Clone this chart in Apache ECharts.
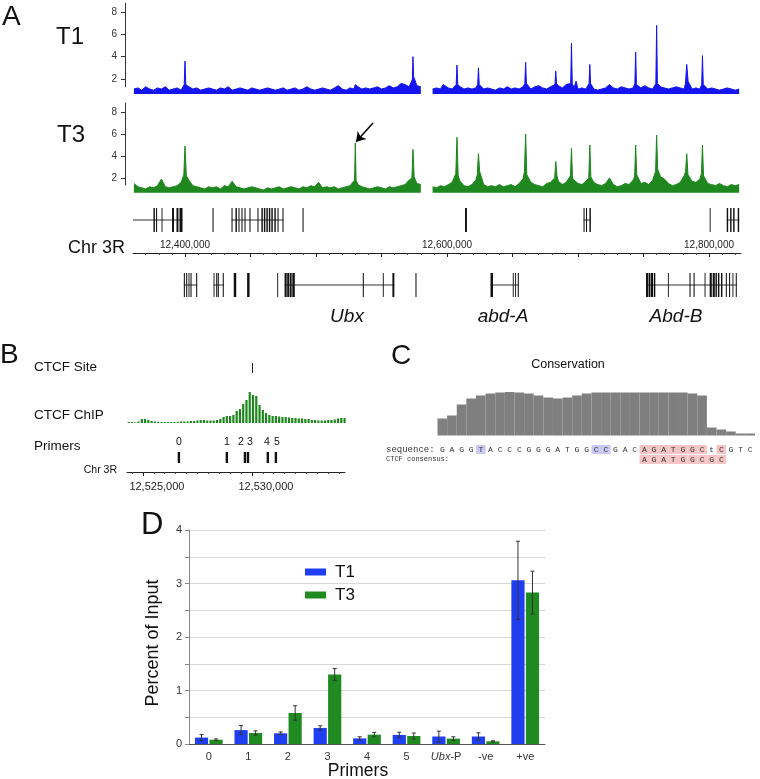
<!DOCTYPE html>
<html><head><meta charset="utf-8">
<script src="https://cdn.jsdelivr.net/npm/echarts@6.0.0/dist/echarts.min.js"></script>
<style>html,body{margin:0;padding:0;background:#fff}#c{width:760px;height:779px}</style>
</head><body><div id="c"></div>
<script>
// ================= Panel A data (genomic kb) =================
const chrStartKb = 12360.3, chrEndKb = 12824.4;
const trackStepKb = 3;
const seg1StartKb = 12361, seg2StartKb = 12589;
const trackTicks = [2, 4, 6, 8];
const t1Seg1 = [1.1,1.2,1.0,1.3,1.1,1.0,1.2,1.1,1.3,1.0,1.1,1.2,1.0,1.1,1.3,1.1,1.2,1.0,1.1,1.2,
  1.1,1.0,1.2,1.1,1.3,1.0,1.1,1.2,1.1,1.0,1.2,1.1,1.0,1.1,1.2,1.1,1.0,1.1,1.2,1.0,
  1.1,1.2,1.0,1.1,1.3,1.1,1.0,1.1,1.2,1.1,1.0,1.2,1.4,1.1,1.0,1.2,1.1,1.3,1.1,1.2,
  1.1,1.2,1.3,1.1,1.2,1.4,1.2,1.3,1.6,1.5,1.3,1.2,1.4,1.3];
const t1Seg2 = [1.1,1.2,1.1,1.4,1.2,1.1,1.2,1.3,1.1,1.2,1.1,1.2,1.3,1.1,1.2,1.1,1.0,1.2,1.1,1.3,
  1.1,1.2,1.1,1.3,1.2,1.1,1.3,1.4,1.2,1.1,1.3,1.2,1.4,1.2,1.5,1.3,1.2,1.1,1.2,1.1,
  1.2,1.1,1.0,1.1,1.2,1.1,1.2,1.1,1.3,1.2,1.1,1.2,1.3,1.2,1.4,1.2,1.1,1.2,1.3,1.2,
  1.1,1.2,1.3,1.2,1.1,1.2,1.1,1.2,1.1,1.0,1.1,1.2,1.1,1.0,1.1,1.2,1.1,1.0,1.1];
const t1Peaks = [[12399.4,1.5],[12400,3.6],[12400.6,1.5],[12530,1.5],[12556,1.4],
  [12573,1.8],[12573.6,2.0],[12574,4.0],[12574.5,2.2],[12575.5,1.9],[12597,1.5],
  [12607,1.5],[12607.6,3.25],[12608.2,1.5],[12623.4,1.5],[12624,3.0],[12624.6,1.5],
  [12659.4,1.6],[12660,3.5],[12660.6,1.6],[12682.4,1.5],[12683,2.7],[12683.6,1.6],
  [12694.4,1.6],[12695,5.2],[12695.6,1.6],[12698.5,1.8],[12708.4,1.6],[12709,3.3],[12709.6,1.6],
  [12724,1.5],[12743.4,1.6],[12744,4.4],[12744.6,1.5],[12759.4,1.6],[12760,6.8],[12760.6,1.6],
  [12782,1.6],[12783,3.3],[12784,1.8],[12794.4,1.5],[12795,4.1],[12795.6,1.5]];
const t3Seg1 = [1.5,1.2,1.1,1.0,1.2,1.1,1.3,1.9,1.2,1.1,
  1.2,1.3,1.6,2.0,1.8,1.3,1.2,1.1,1.0,1.2,
  1.1,1.2,1.0,1.3,1.2,1.7,1.2,1.1,1.0,1.1,
  1.2,1.1,1.0,0.9,1.1,1.0,1.1,1.2,1.0,1.1,
  1.2,1.1,1.0,1.2,1.1,1.3,1.2,1.6,1.1,1.2,
  1.1,1.2,1.0,1.1,1.2,1.3,1.5,1.4,1.2,1.1,
  1.0,1.1,1.2,1.1,1.0,1.2,1.1,1.2,1.3,1.4,
  1.8,2.0,1.5,1.4];
const t3Seg2 = [1.2,1.1,1.3,1.2,1.4,1.6,2.0,1.7,1.3,1.2,
  1.4,1.8,1.9,1.4,1.2,1.3,1.2,1.4,1.2,1.3,
  1.4,1.2,1.5,1.9,2.1,1.6,1.4,1.3,1.2,1.5,
  1.6,2.0,1.7,1.4,1.6,2.0,1.8,1.5,1.4,1.7,
  2.1,1.6,1.4,1.3,1.5,1.9,1.4,1.2,1.3,1.5,
  1.4,1.8,1.9,1.5,1.6,1.4,1.8,2.4,2.1,1.9,
  1.5,1.3,1.4,1.6,2.2,2.0,1.7,1.6,1.9,1.8,
  1.5,1.4,1.3,1.5,1.3,1.2,1.4,1.3,1.4];
const t3Peaks = [[12399.1,2.3],[12400,4.9],[12401,2.2],[12529.4,1.8],[12530,5.2],[12530.6,1.8],
  [12573.2,2.0],[12574,4.6],[12574.9,2.1],[12606.7,2.4],[12607.6,5.7],[12608.5,2.2],
  [12623.1,2.3],[12624,4.2],[12624.9,2.6],[12659.1,2.6],[12660,6.0],[12660.9,2.3],
  [12682.2,2.0],[12683,3.5],[12683.9,2.2],[12694.2,2.2],[12695,4.7],[12695.8,2.0],
  [12708.2,2.0],[12709,5.0],[12709.8,2.1],[12724,2.0],[12743.2,2.1],[12744,5.0],[12744.8,2.3],
  [12759.2,2.6],[12760,5.9],[12760.8,2.8],[12782.1,2.6],[12783,4.2],[12783.9,2.3],
  [12794.2,2.4],[12795,5.0],[12795.8,2.2]];
const arrowFrom = [12543.5, 7.0], arrowTo = [12530.6, 5.3];

const geneTopIntrons = [[12360.3,12398.1],[12435.5,12475.2],[12704.2,12709.8],[12813.5,12823.0]];
const geneTopExons = [[12375.9,12377.0],[12377.9,12378.7],[12382.1,12382.8],[12390.1,12391.6],[12393.5,12395.0],
  [12395.8,12398.1],[12421.0,12421.8],[12435.5,12436.3],[12438.5,12439.6],[12440.8,12441.6],[12443.1,12443.9],
  [12445.4,12446.2],[12449.2,12450.0],[12455.3,12456.1],[12458.3,12459.4],[12460.2,12461.3],[12462.1,12463.2],
  [12464.0,12465.1],[12465.9,12467.0],[12468.2,12469.3],[12470.6,12471.4],[12474.4,12475.2],[12489.7,12490.5],
  [12613.7,12615.2],[12704.2,12705.0],[12706.1,12706.9],[12708.7,12709.8],[12800.5,12801.1],
  [12813.5,12814.6],[12816.1,12817.2],[12818.4,12819.5],[12821.9,12823.0]];
const geneBottomIntrons = [[12399.1,12409.3],[12421.8,12429.6],[12476.0,12559.8],[12633.2,12654.8],[12751.9,12821.2]];
const geneBottomExons = [[12399.1,12399.9],[12400.9,12401.7],[12402.7,12403.4],[12404.2,12405.0],[12408.5,12409.3],
  [12421.8,12422.5],[12423.8,12424.6],[12425.0,12425.8],[12428.8,12429.6],[12437.2,12439.1],[12447.4,12449.3],
  [12470.4,12471.1],[12476.0,12477.6],[12478.0,12479.5],[12479.9,12481.4],[12481.9,12483.8],[12535.7,12536.5],
  [12551.0,12551.7],[12558.3,12559.8],[12575.9,12576.7],[12633.2,12635.1],[12650.2,12650.9],[12652.0,12652.7],
  [12654.0,12654.8],[12751.9,12753.4],[12753.8,12755.3],[12755.7,12757.3],[12757.9,12759.0],[12768.6,12769.3],
  [12785.1,12785.9],[12788.2,12789.0],[12796.6,12797.3],[12800.5,12802.1],[12802.8,12804.4],[12804.9,12806.0],
  [12806.8,12807.9],[12809.1,12810.2],[12812.8,12813.6],[12815.3,12816.1],[12817.9,12818.6],[12820.4,12821.2]];
const chrMajorTicks = [12400,12450,12500,12550,12600,12650,12700,12750,12800];
const chrLabelTicks = [12400,12600,12800];
const chrMinorTicks = [12370,12380,12390,12410,12420,12430,12440,12460,12470,12480,12490,12510,12520,12530,12540,
  12560,12570,12580,12590,12610,12620,12630,12640,12660,12670,12680,12690,12710,12720,12730,12740,12760,12770,
  12780,12790,12810,12820];

// ================= Panel B data =================
const bStartKb = 12524.27, bEndKb = 12534.27;
const ctcfSiteKb = 12530.0;
const chipStartKb = 12524.35, chipStepKb = 0.15;
const chipValues = [1,1,0.5,1.5,4,4,3,2,1.5,1,
  1,1,1,1,1,1,1.5,1.5,1.5,2,
  2,2.5,3,3,2.5,2.5,2.5,3,4,6,
  7,7,8,12,14,19,23,31,28,27,
  18,13,10,8,7,
  7,6.5,6,6,5.5,5,5,4.5,4.5,4,4,3,3,2.5,2.5,2.5,3,3,3.5,4.5,5,5];
const primerNames = ['0','1','2','3','4','5'];
const primerKb = [12526.65,12528.85,12529.68,12529.82,12530.73,12531.1];
const bMajorTicks = [12525, 12530];
const bMinorTicks = [12524.5,12525.5,12526,12526.5,12527,12527.5,12528,12528.5,12529,12529.5,
  12530.5,12531,12531.5,12532,12532.5,12533,12533.5,12534];

// ================= Panel C data =================
const consSeq = ['G','A','G','G','T','A','C','C','C','G','G','G','A','T','G','G','C','C','G','A','C',
  'A','G','A','T','G','G','C','t','C','G','T','C'];
const conservation = [17,20,31,37,40,42,43,43.5,43,42,40,38,37,38,40,42,43,43,43,43,43,43,43,43,43,43,42,40,8,6,4,2,2];
const blueHighlight = [4,16,17];
const pinkHighlight = [21,22,23,24,25,26,27,29];
const consensus = ['A','G','A','T','G','G','C','G','C'];
const consensusStart = 21;

// ================= Panel D data =================
const dCategories = ['0','1','2','3','4','5','Ubx-P','-ve','+ve'];
const t1Vals = [0.12,0.26,0.20,0.30,0.105,0.17,0.14,0.14,3.06];
const t1Err  = [0.055,0.085,0.025,0.04,0.03,0.05,0.10,0.07,0.73];
const t3Vals = [0.08,0.205,0.58,1.30,0.175,0.15,0.10,0.05,2.83];
const t3Err  = [0.015,0.04,0.135,0.11,0.04,0.055,0.035,0.01,0.40];

// ================= build =================
const SANS = "'Liberation Sans', Arial, sans-serif";
const MONO = "'Liberation Mono', monospace";
const BLUE = '#1414ee', GREEN = '#1e871e';
const BAR_BLUE = '#1f3ef0', BAR_GREEN = '#1f8a1f';

function buildTrack(seg1, seg2, peaks) {
  const near = x => peaks.some(p => Math.abs(p[0] - x) < 0.9);
  const a = seg1.map((v, i) => [seg1StartKb + i * trackStepKb, v]).filter(p => !near(p[0]));
  const b = seg2.map((v, i) => [seg2StartKb + i * trackStepKb, v]).filter(p => !near(p[0]));
  const seg1End = seg1StartKb + (seg1.length - 1) * trackStepKb;
  peaks.forEach(p => (p[0] <= seg1End + 1 ? a : b).push(p));
  a.sort((x, y) => x[0] - y[0]); b.sort((x, y) => x[0] - y[0]);
  return a.concat([[(seg1End + seg2StartKb) / 2, null]], b);
}

const grids = [
  {left:133, top:3.1, width:608, height:83.7},   //0 T1
  {left:133, top:103, width:608, height:82},     //1 T3
  {left:133, top:208, width:608, height:24},     //2 gene top
  {left:133, top:273, width:608, height:24},     //3 gene bottom
  {left:133, top:252, width:608, height:1},      //4 chr axis major
  {left:133, top:252, width:608, height:1},      //5 chr axis minor
  {left:127, top:392, width:218, height:31},     //6 chip
  {left:127, top:363, width:218, height:10},     //7 site
  {left:127, top:452, width:218, height:11},     //8 primers
  {left:127, top:471, width:218, height:1},      //9 B axis major
  {left:127, top:471, width:218, height:1},      //10 B axis minor
  {left:437.5, top:392, width:317.5, height:43.5}, //11 conservation
  {left:189, top:530, width:356, height:214}     //12 D
];
const hiddenX = (g, min, max) => ({type:'value', gridIndex:g, min, max, show:false});
const hiddenY = (g, min, max) => ({type:'value', gridIndex:g, min, max, show:false});
const trackY = (g, min, max) => ({type:'value', gridIndex:g, min, max, offset:8,
  axisLine:{show:true, lineStyle:{color:'#333', width:1}},
  axisTick:{show:true, length:4, customValues:trackTicks, lineStyle:{color:'#333'}},
  axisLabel:{customValues:trackTicks, fontSize:10, color:'#333', margin:8, fontFamily:SANS},
  splitLine:{show:false}});
const fmtBp = v => Math.round(v * 1000).toLocaleString('en-US');

const xAxes = [
  hiddenX(0, chrStartKb, chrEndKb), hiddenX(1, chrStartKb, chrEndKb),
  hiddenX(2, chrStartKb, chrEndKb), hiddenX(3, chrStartKb, chrEndKb),
  {type:'value', gridIndex:4, min:chrStartKb, max:chrEndKb, position:'bottom',
    axisLine:{show:true, lineStyle:{color:'#222', width:1}},
    axisTick:{show:true, inside:false, length:4, customValues:chrMajorTicks, lineStyle:{color:'#222'}},
    axisLabel:{show:true, inside:true, margin:3, customValues:chrLabelTicks, formatter:fmtBp, fontSize:10, color:'#222', fontFamily:SANS},
    splitLine:{show:false}},
  {type:'value', gridIndex:5, min:chrStartKb, max:chrEndKb, position:'bottom',
    axisLine:{show:false}, axisLabel:{show:false}, splitLine:{show:false},
    axisTick:{show:true, inside:false, length:2, customValues:chrMinorTicks, lineStyle:{color:'#444'}}},
  hiddenX(6, bStartKb, bEndKb), hiddenX(7, bStartKb, bEndKb), hiddenX(8, bStartKb, bEndKb),
  {type:'value', gridIndex:9, min:bStartKb, max:bEndKb, position:'bottom',
    axisLine:{show:true, lineStyle:{color:'#222', width:1}},
    axisTick:{show:true, length:4, customValues:bMajorTicks, lineStyle:{color:'#222'}},
    axisLabel:{show:true, margin:9, customValues:bMajorTicks, formatter:fmtBp, fontSize:11, color:'#222',
      fontFamily:SANS, padding:[0,0,0,28]},
    splitLine:{show:false}},
  {type:'value', gridIndex:10, min:bStartKb, max:bEndKb, position:'bottom',
    axisLine:{show:false}, axisLabel:{show:false}, splitLine:{show:false},
    axisTick:{show:true, length:2, customValues:bMinorTicks, lineStyle:{color:'#444'}}},
  {type:'category', gridIndex:11, data:consSeq.map((c, i) => String(i)), show:false, boundaryGap:true},
  {type:'category', gridIndex:12, data:dCategories,
    axisLine:{show:true, lineStyle:{color:'#555', width:1}}, axisTick:{show:false},
    axisLabel:{interval:0, margin:7, fontSize:11, color:'#333', fontFamily:SANS,
      formatter: v => v === 'Ubx-P' ? '{i|Ubx}-P' : v,
      rich:{i:{fontStyle:'italic', fontSize:11, color:'#333', fontFamily:SANS}}}}
];
const yAxes = [
  trackY(0, 1.3, 8.8), trackY(1, 1.36, 8.82),
  hiddenY(2, 0, 1), hiddenY(3, 0, 1), hiddenY(4, 0, 1), hiddenY(5, 0, 1),
  hiddenY(6, 0, 31), hiddenY(7, 0, 1), hiddenY(8, 0, 1), hiddenY(9, 0, 1), hiddenY(10, 0, 1),
  hiddenY(11, 0, 43.5),
  {type:'value', gridIndex:12, min:0, max:4, interval:0.5,
    axisLine:{show:true, lineStyle:{color:'#888'}}, axisTick:{show:true, length:4, lineStyle:{color:'#888'}},
    axisLabel:{formatter: v => Number.isInteger(v) ? String(v) : '', fontSize:11, color:'#333', margin:7, fontFamily:SANS},
    splitLine:{show:true, lineStyle:{color:'#d8d8d8', width:1}}}
];

const trackSeries = (name, g, data, color, extra) => Object.assign({
  name, type:'line', xAxisIndex:g, yAxisIndex:g, data, showSymbol:false, clip:false,
  connectNulls:false, lineStyle:{color, width:1}, itemStyle:{color},
  areaStyle:{color, opacity:1, origin:0.65}, silent:true, z:3}, extra || {});

const geneSeries = (g, data, kind) => ({
  type:'custom', xAxisIndex:g, yAxisIndex:g, data, silent:true, z: kind === 'exon' ? 4 : 3,
  renderItem: (params, api) => {
    const cs = params.coordSys;
    const s = api.coord([api.value(0), 0])[0], e = api.coord([api.value(1), 0])[0];
    if (kind === 'exon') {
      return {type:'rect', shape:{x:s, y:cs.y, width:Math.max(e - s, 0.9), height:cs.height}, style:{fill:'#111'}};
    }
    const ym = cs.y + cs.height / 2;
    return {type:'line', shape:{x1:s, y1:ym, x2:e, y2:ym}, style:{stroke:'#333', lineWidth:1}};
  }
});

const primerLabelDx = [0, 0, -4, 2, -1, 1];
const errorSeries = (g, vals, errs, sign) => ({
  type:'custom', xAxisIndex:g, yAxisIndex:g, silent:true, z:5,
  data: vals.map((v, i) => [i, v, errs[i]]),
  renderItem: (params, api) => {
    const ci = api.value(0), v = api.value(1), e = api.value(2);
    const band = api.size([1, 0])[0];
    const w = band * 0.7 / 2.1;
    const xc = api.coord([ci, 0])[0] + sign * 0.55 * w;
    const yt = api.coord([ci, v + e])[1], yb = api.coord([ci, v - e])[1];
    const st = {stroke:'#333', lineWidth:1};
    return {type:'group', children:[
      {type:'line', shape:{x1:xc, y1:yt, x2:xc, y2:yb}, style:st},
      {type:'line', shape:{x1:xc - 2, y1:yt, x2:xc + 2, y2:yt}, style:st},
      {type:'line', shape:{x1:xc - 2, y1:yb, x2:xc + 2, y2:yb}, style:st}
    ]};
  }
});

const series = [
  trackSeries('T1 track', 0, buildTrack(t1Seg1, t1Seg2, t1Peaks), BLUE),
  trackSeries('T3 track', 1, buildTrack(t3Seg1, t3Seg2, t3Peaks), GREEN, {
    markLine:{silent:true, symbol:['none','arrow'], symbolSize:9, animation:false,
      lineStyle:{color:'#000', width:1.5, type:'solid'}, label:{show:false},
      emphasis:{disabled:true},
      data:[[{coord:arrowFrom}, {coord:arrowTo}]]}}),
  geneSeries(2, geneTopIntrons, 'intron'), geneSeries(2, geneTopExons, 'exon'),
  geneSeries(3, geneBottomIntrons, 'intron'), geneSeries(3, geneBottomExons, 'exon'),
  {type:'bar', xAxisIndex:6, yAxisIndex:6, silent:true, barWidth:2.2,
    data: chipValues.map((v, i) => [chipStartKb + i * chipStepKb, v]), itemStyle:{color:GREEN}},
  {type:'custom', xAxisIndex:7, yAxisIndex:7, silent:true, data:[[ctcfSiteKb, 0]],
    renderItem: (params, api) => {
      const cs = params.coordSys, x = Math.round(api.coord([api.value(0), 0])[0]) + 0.5;
      return {type:'line', shape:{x1:x, y1:cs.y, x2:x, y2:cs.y + cs.height}, style:{stroke:'#222', lineWidth:1}};
    }},
  {type:'custom', xAxisIndex:8, yAxisIndex:8, silent:true, data: primerKb.map(k => [k, 0]),
    renderItem: (params, api) => {
      const cs = params.coordSys, i = params.dataIndex, x = api.coord([api.value(0), 0])[0];
      return {type:'group', children:[
        {type:'rect', shape:{x:x - 1.2, y:cs.y, width:2.4, height:cs.height}, style:{fill:'#111'}},
        {type:'text', x:x + primerLabelDx[i], y:cs.y - 10,
          style:{text:primerNames[i], font:'10.5px ' + SANS, fill:'#111', align:'center', verticalAlign:'middle'}}
      ]};
    }},
  {type:'bar', xAxisIndex:11, yAxisIndex:11, silent:true, barCategoryGap:'0%', barGap:'0%',
    data: conservation, itemStyle:{color:'#7f7f7f'}},
  {type:'custom', xAxisIndex:11, yAxisIndex:11, silent:true, data: consSeq.map((c, i) => [i, 0]),
    renderItem: (params, api) => {
      const i = params.dataIndex;
      const x = api.coord([i, 0])[0], band = api.size([1, 0])[0];
      const ch = [];
      const hl = blueHighlight.includes(i) ? '#c9c9f3' : (pinkHighlight.includes(i) ? '#f5c5c5' : null);
      if (hl) ch.push({type:'rect', shape:{x:x - band / 2, y:445, width:band, height:9}, style:{fill:hl}});
      ch.push({type:'text', x, y:449.5, style:{text:consSeq[i], font:'8px ' + MONO, fill:'#333', align:'center', verticalAlign:'middle'}});
      const k = i - consensusStart;
      if (k >= 0 && k < consensus.length) {
        ch.push({type:'rect', shape:{x:x - band / 2, y:455, width:band, height:9}, style:{fill:'#f5c5c5'}});
        ch.push({type:'text', x, y:459.5, style:{text:consensus[k], font:'8px ' + MONO, fill:'#333', align:'center', verticalAlign:'middle'}});
      }
      return {type:'group', children:ch};
    }},
  {name:'T1', type:'bar', xAxisIndex:12, yAxisIndex:12, data:t1Vals, barCategoryGap:'30%', barGap:'10%',
    itemStyle:{color:BAR_BLUE}, silent:true, z:3},
  {name:'T3', type:'bar', xAxisIndex:12, yAxisIndex:12, data:t3Vals, barCategoryGap:'30%', barGap:'10%',
    itemStyle:{color:BAR_GREEN}, silent:true, z:3},
  errorSeries(12, t1Vals, t1Err, -1),
  errorSeries(12, t3Vals, t3Err, 1)
];

const txt = (text, x, y, size, align, italic) => ({type:'text', x, y, silent:true,
  style:{text, font:(italic ? 'italic ' : '') + size + 'px ' + SANS, fill:'#111', align:align || 'left', verticalAlign:'middle'}});
const graphic = [
  txt('A', 2, 17, 28), txt('T1', 70, 37, 24, 'center'), txt('T3', 71, 135, 24, 'center'),
  txt('Chr 3R', 125, 248, 18, 'right'),
  txt('Ubx', 347, 317, 19, 'center', true), txt('abd-A', 503, 317, 19, 'center', true), txt('Abd-B', 676, 317, 19, 'center', true),
  txt('B', 0, 355, 28), txt('CTCF Site', 34, 367, 13.5), txt('CTCF ChIP', 34, 415, 13.5), txt('Primers', 34, 446, 13.5),
  txt('Chr 3R', 117, 470, 10.5, 'right'),
  txt('C', 391, 356, 28), txt('Conservation', 568, 365, 12.5, 'center'),
  {type:'text', x:386, y:449.5, silent:true, style:{text:'sequence:', font:'9px ' + MONO, fill:'#333', align:'left', verticalAlign:'middle'}},
  {type:'text', x:386, y:459, silent:true, style:{text:'CTCF consensus:', font:'7px ' + MONO, fill:'#333', align:'left', verticalAlign:'middle'}},
  txt('D', 141, 525, 31),
  {type:'text', x:153, y:643, rotation:Math.PI / 2, silent:true, style:{text:'Percent of Input', font:'18px ' + SANS, fill:'#111', align:'center', verticalAlign:'middle'}},
  txt('Primers', 358, 771, 17.5, 'center')
];

const chart = echarts.init(document.getElementById('c'), null, {renderer:'canvas'});
chart.setOption({
  animation:false, backgroundColor:'#fff',
  textStyle:{fontFamily:SANS},
  grid:grids, xAxis:xAxes, yAxis:yAxes, series, graphic,
  legend:{data:['T1','T3'], left:300, top:558.5, orient:'vertical', icon:'rect', itemWidth:21, itemHeight:7,
    itemGap:6, selectedMode:false, textStyle:{fontSize:17, color:'#111', lineHeight:17, fontFamily:SANS, padding:[0,0,0,4]}}
});
</script></body></html>
